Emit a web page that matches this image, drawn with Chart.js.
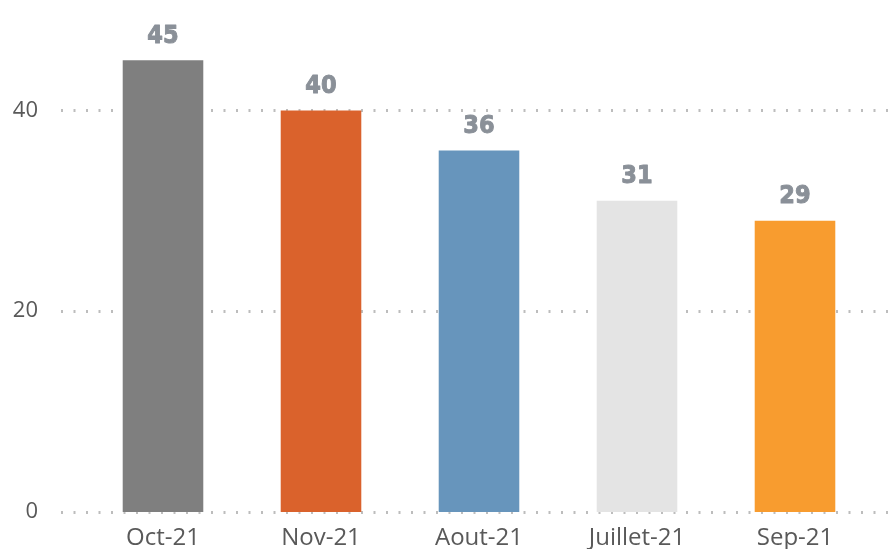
<!DOCTYPE html>
<html>
<head>
<meta charset="utf-8">
<script src="https://cdn.jsdelivr.net/npm/chart.js@4/dist/chart.umd.min.js"></script>
<style>
html,body{margin:0;padding:0;background:#fff;}
#wrap{width:894px;height:549px;position:relative;}
</style>
</head>
<body>
<div id="wrap"><canvas id="c" width="894" height="549"></canvas></div>
<script>
const categories = ["Oct-21", "Nov-21", "Aout-21", "Juillet-21", "Sep-21"];
const values = [45, 40, 36, 31, 29];
const barColors = ["#7f7f7f", "#da622c", "#6795bc", "#e4e4e4", "#f89c2f"];
const yTicks = [0, 20, 40];

const dottedGrid = {
  id: 'dottedGrid',
  beforeDatasetsDraw(chart) {
    const ctx = chart.ctx;
    const y = chart.scales.y;
    ctx.save();
    ctx.strokeStyle = '#bdbdbd';
    ctx.lineWidth = 3;
    ctx.setLineDash([2, 10.5]);
    yTicks.forEach(v => {
      const py = Math.round(y.getPixelForValue(v)) + 0.5;
      ctx.beginPath();
      ctx.moveTo(61, py);
      ctx.lineTo(chart.width, py);
      ctx.stroke();
    });
    ctx.restore();
  }
};

const valueLabels = {
  id: 'valueLabels',
  afterDatasetsDraw(chart) {
    const ctx = chart.ctx;
    const meta = chart.getDatasetMeta(0);
    meta.data.forEach((bar, i) => {
      ctx.save();
      ctx.translate(bar.x, bar.y - 17.5);
      ctx.scale(0.9, 1);
      ctx.font = 'bold 25px "DejaVu Sans"';
      ctx.fillStyle = '#8a9098';
      ctx.strokeStyle = '#8a9098';
      ctx.lineWidth = 1;
      ctx.lineJoin = 'round';
      ctx.textAlign = 'center';
      ctx.textBaseline = 'alphabetic';
      ctx.fillText(String(values[i]), 0, 0);
      ctx.strokeText(String(values[i]), 0, 0);
      ctx.restore();
    });
  }
};

new Chart(document.getElementById('c'), {
  type: 'bar',
  data: {
    labels: categories,
    datasets: [{
      data: values,
      backgroundColor: barColors,
      borderWidth: 0,
      barPercentage: 0.51,
      categoryPercentage: 1.0
    }]
  },
  options: {
    responsive: false,
    animation: false,
    devicePixelRatio: 1,
    layout: { padding: { top: 10, right: 20, left: 0, bottom: 0 } },
    plugins: { legend: { display: false }, tooltip: { enabled: false } },
    scales: {
      x: {
        grid: { display: false, drawTicks: false },
        border: { display: false },
        ticks: {
          color: '#595959',
          font: { family: '"Open Sans"', size: 24 },
          padding: 12,
          maxRotation: 0
        },
        afterFit(scale) { scale.height = 37; scale.paddingLeft = 0; scale.paddingRight = 0; }
      },
      y: {
        min: 0,
        max: 50,
        grid: { display: false, drawTicks: false },
        border: { display: false },
        afterBuildTicks(scale) { scale.ticks = yTicks.map(v => ({ value: v })); },
        ticks: {
          color: '#595959',
          font: { family: '"Open Sans"', size: 22 },
          padding: 46
        },
        afterFit(scale) { scale.width = 84; scale.paddingTop = 0; scale.paddingBottom = 0; }
      }
    }
  },
  plugins: [dottedGrid, valueLabels]
});
</script>
</body>
</html>
